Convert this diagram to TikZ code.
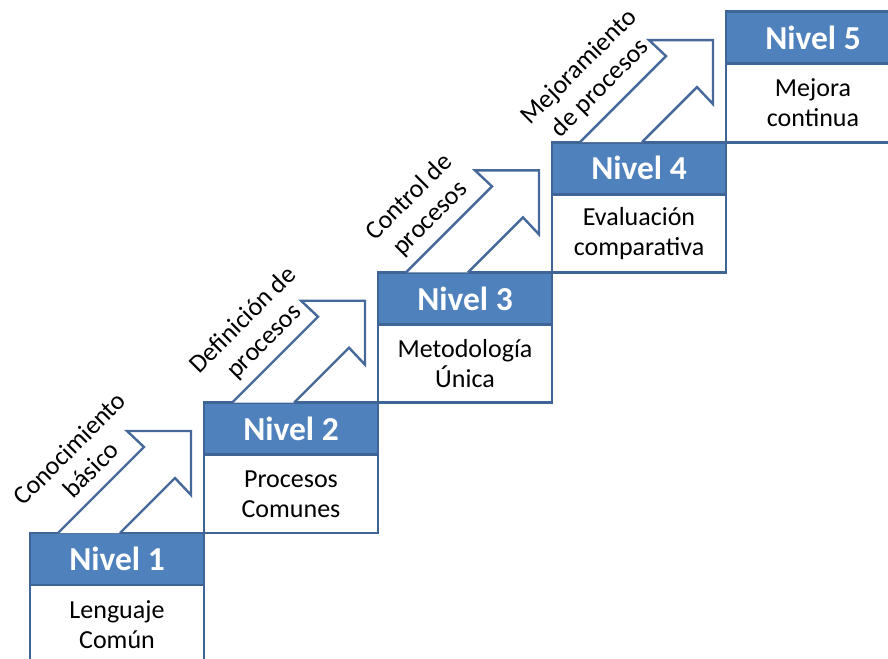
\documentclass[tikz,border=0pt]{standalone}
\usepackage{fontspec}
\setmainfont{Carlito}
\usetikzlibrary{calc}
\definecolor{nivfill}{HTML}{4F81BD}
\definecolor{nivline}{HTML}{3E6596}
\definecolor{arrline}{HTML}{45699A}
\begin{document}
\begin{tikzpicture}[x=1pt,y=-1pt,
  levelhead/.style={rectangle, draw=nivline, fill=nivfill, line width=2.8pt,
    minimum width=174pt, minimum height=52pt, inner sep=0pt, outer sep=0pt,
    text=white, font=\fontsize{33.5}{36}\selectfont\bfseries},
  levelbody/.style={rectangle, draw=nivline, fill=white, line width=2.8pt,
    minimum width=174pt, minimum height=78.3pt, inner sep=0pt, outer sep=0pt,
    align=center, font=\fontsize{26}{30}\selectfont},
  steparrow/.style={draw=arrline, fill=white, line width=2.4pt, line join=miter},
  steplabel/.style={rotate=45, align=center, inner sep=0pt,
    font=\fontsize{26}{30}\selectfont}]
\useasboundingbox (0,0) rectangle (888,658);

% the five steps of the staircase
\foreach \i/\x/\y/\txt in {1/30/533/{Lenguaje\\Común},
                            2/204/402.7/{Procesos\\Comunes},
                            3/378/272.4/{Metodología\\Única},
                            4/552/142.1/{Evaluación\\comparativa},
                            5/726/11.8/{Mejora\\continua}}{
  \node[levelhead, anchor=north west] (h\i) at (\x,\y) {Nivel \i};
  \node[levelbody, anchor=north] (b\i) at (h\i.south) {\txt};
}

% block arrows climbing from each step to the next
\foreach \i in {1,...,4}{
  \draw[steparrow] ($(h\i.north west)+(28,0)$) -- ++(86,-86) -- ++(-17,-16)
    -- ++(64,0) -- ++(0,64) -- ++(-16,-17) -- ++(-55,55);
}

% rotated captions beside the arrows
\node[steplabel] (l1) at (80,459) {Conocimiento\\básico};
\node[steplabel] (l2) at (254,331) {Definición de\\procesos};
\node[steplabel] (l3) at (420,208) {Control de\\procesos};
\node[steplabel] (l4) at (590,78) {Mejoramiento\\de procesos};
\end{tikzpicture}
\end{document}
